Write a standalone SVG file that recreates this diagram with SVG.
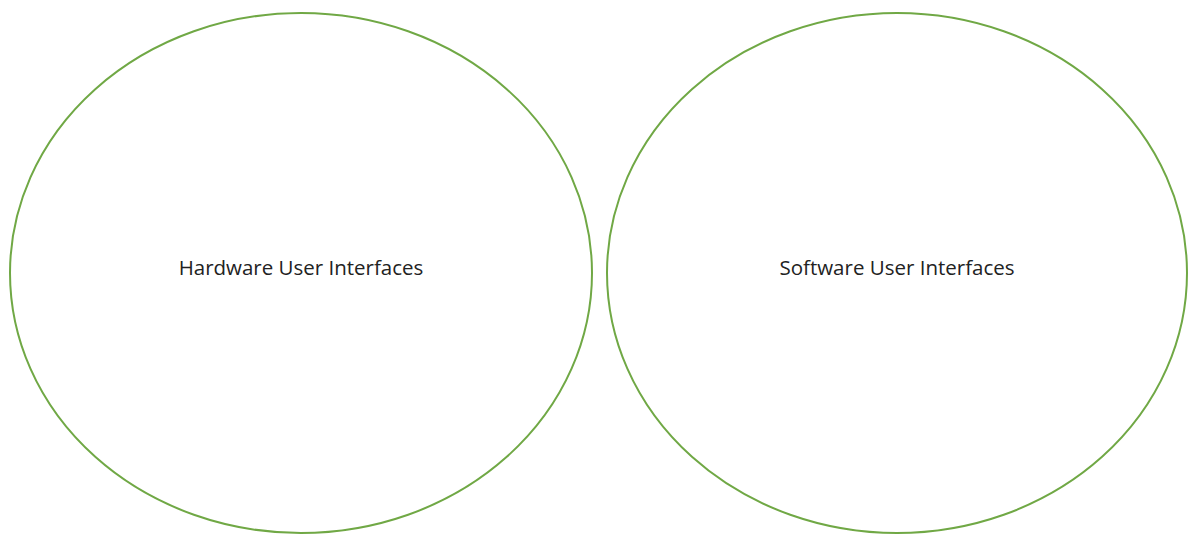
<svg xmlns="http://www.w3.org/2000/svg" width="1191" height="534" viewBox="0 0 1191 534">
<style>
.n{fill:none;stroke:#70a845;stroke-width:2}
.t{font-family:"Open Sans","Liberation Sans",sans-serif;font-size:20.5px;fill:#222;text-anchor:middle}
</style>
<rect width="1191" height="534" fill="#fff"/>
<g id="hardware"><ellipse class="n" cx="301" cy="273" rx="291" ry="260"/><text class="t" x="301" y="275">Hardware User Interfaces</text></g>
<g id="software"><ellipse class="n" cx="897" cy="273" rx="290" ry="260"/><text class="t" x="897" y="275">Software User Interfaces</text></g>
<g id="connectors"/>
</svg>
